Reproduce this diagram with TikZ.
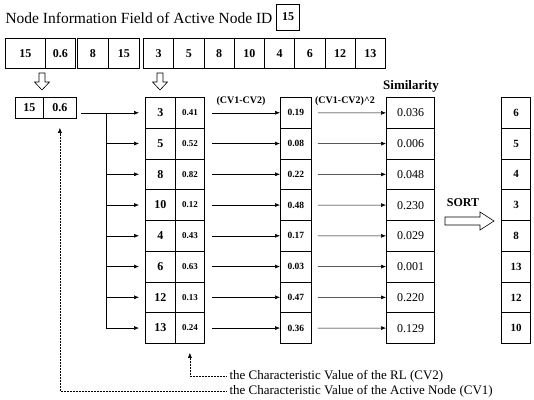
\documentclass[tikz,border=0pt]{standalone}
\usepackage{fontspec}
\setmainfont{Liberation Serif}
\usetikzlibrary{arrows.meta}

\begin{document}
\begin{tikzpicture}[x=1pt,y=-1pt,
  cell/.style={draw,line width=0.8pt,inner sep=0pt,anchor=north west,
    font=\bfseries\fontsize{12}{12}\selectfont},
  link/.style={-{Latex[length=5pt,width=4pt]},line width=0.5pt},
  hollow/.style={draw,line width=0.6pt,line join=miter}]
\useasboundingbox (0,0) rectangle (534,399);
% header
\node[anchor=west,font=\fontsize{15.5}{16}\selectfont] (title) at (2,18) {Node Information Field of Active Node ID};
\node[cell,anchor=center,minimum width=23pt,minimum height=26pt] (idbox) at (288,17) {15};
% information field
\foreach \x/\w/\t [count=\i] in {5/40/15,45/30/0.6,77/31/8,108/31/15,143/30.25/3,173.25/30.25/5,
  203.5/30.25/8,233.75/30.25/10,264/30.25/4,294.25/30.25/6,324.5/30.25/12,354.75/30.25/13}
  \node[cell,minimum width=\w pt,minimum height=30pt] (top\i) at (\x,38) {\t};
\foreach \x in {42,160}
  \draw[hollow] (\x-3,73) -- (\x+3,73) -- (\x+3,82) -- (\x+7.5,82) -- (\x,90)
    -- (\x-7.5,82) -- (\x-3,82) -- cycle;
% active node
\node[cell,minimum width=28pt,minimum height=21pt] (pk) at (15,97) {15};
\node[cell,minimum width=33pt,minimum height=21pt] (pv) at (43,97) {0.6};
% RL rows
\foreach \id/\cv/\d/\s/\o [count=\i] in {3/0.41/0.19/0.036/6,5/0.52/0.08/0.006/5,8/0.82/0.22/0.048/4,
  10/0.12/0.48/0.230/3,4/0.43/0.17/0.029/8,6/0.63/0.03/0.001/13,12/0.13/0.47/0.220/12,13/0.24/0.36/0.129/10}{
  \pgfmathsetmacro\ty{97+(\i-1)*30.75}
  \node[cell,minimum width=30pt,minimum height=30.75pt] (id\i) at (145,\ty) {\id};
  \node[cell,minimum width=29pt,minimum height=30.75pt,font=\bfseries\fontsize{9}{9}\selectfont] (cv\i) at (175,\ty) {\cv};
  \node[cell,minimum width=31pt,minimum height=30.75pt,font=\bfseries\fontsize{9.5}{10}\selectfont] (df\i) at (280,\ty) {\d};
  \node[cell,line width=1pt,minimum width=48pt,minimum height=30.75pt,font=\fontsize{12}{12}\selectfont] (sm\i) at (386,\ty) {\s};
  \node[cell,line width=1pt,minimum width=29pt,minimum height=30.75pt,font=\bfseries\fontsize{11}{11}\selectfont] (st\i) at (501,\ty) {\o};
  \draw[link,shorten <=7pt] (cv\i) -- (df\i);
  \draw[link,shorten <=6pt] (df\i) -- (sm\i);
}
% branches to the RL
\coordinate (br) at (106,0);
\draw[link,shorten <=4pt,shorten >=6pt] (pv.east |- id1) -- (id1);
\draw[line width=0.5pt] (br |- id1) -- (br |- id8);
\foreach \i in {2,...,8}
  \draw[link,shorten >=6pt] (br |- id\i) -- (id\i);
% labels
\node[font=\bfseries\fontsize{10}{10}\selectfont] (lab1) at (241,101) {(CV1-CV2)};
\node[font=\bfseries\fontsize{10}{10}\selectfont] (lab2) at (345,101) {(CV1-CV2)\textasciicircum 2};
\node[font=\bfseries\fontsize{13}{13}\selectfont] (simlab) at (411,86) {Similarity};
\node[font=\bfseries\fontsize{12}{12}\selectfont] (sortlab) at (463,203) {SORT};
\draw[hollow] (445,217) -- (480,217) -- (480,212) -- (494,221) -- (480,230)
  -- (480,225) -- (445,225) -- cycle;
% legend
\node[anchor=west,font=\fontsize{13}{13}\selectfont] (cv2txt) at (226,376) {the Characteristic Value of the RL (CV2)};
\node[anchor=west,font=\fontsize{13}{13}\selectfont] (cv1txt) at (226,391) {the Characteristic Value of the Active Node (CV1)};
\draw[link,densely dotted] (cv2txt.west) -| ([yshift=-9pt]cv8.south);
\draw[link,densely dotted] (cv1txt.west) -| ([yshift=-9pt]pv.south);
\end{tikzpicture}
\end{document}
